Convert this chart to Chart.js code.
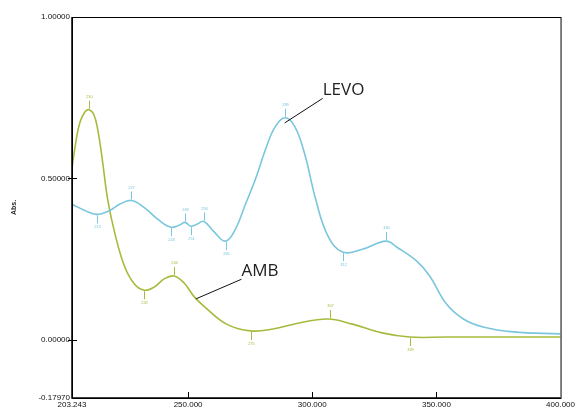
<!DOCTYPE html>
<html>
<head>
<meta charset="utf-8">
<script src="https://cdn.jsdelivr.net/npm/chart.js@4/dist/chart.umd.min.js"></script>
<style>
  html, body { margin: 0; padding: 0; background: #fff; }
  #wrap { width: 577px; height: 414px; }
</style>
</head>
<body>
<div id="wrap"><canvas id="chart"></canvas></div>
<script>
// wavelengths (nm) and absorbance
const levoX = [203.243, 208.43, 213.22, 218.41, 222.40, 227.19, 232.37, 238.36, 243.15, 246.34,
  248.73, 251.13, 253.52, 256.32, 260.31, 265.10, 269.09, 273.08, 277.07, 281.46,
  285.05, 289.04, 293.03, 297.02, 301.41, 306.2, 312.18, 320.16, 329.74, 334.13,
  342.11, 347.3, 354.08, 360.86, 368.84, 380.82, 400];
const levoY = [0.420, 0.401, 0.389, 0.401, 0.420, 0.432, 0.410, 0.370, 0.349, 0.355,
  0.364, 0.352, 0.358, 0.367, 0.336, 0.306, 0.343, 0.420, 0.497, 0.596,
  0.660, 0.688, 0.660, 0.574, 0.435, 0.324, 0.272, 0.281, 0.306, 0.287,
  0.244, 0.198, 0.111, 0.065, 0.040, 0.025, 0.019];

const ambX = [203.243, 204.84, 206.44, 208.43, 210.03, 212.02, 213.62, 215.61, 217.61, 220.40,
  224.39, 228.38, 232.37, 236.36, 240.5, 244.34, 248.33, 252.33, 256.32, 265.49,
  275.07, 284.25, 294.22, 306.2, 316.17, 328.14, 339.3, 354.08, 374.03, 400];
const ambY = [0.533, 0.615, 0.674, 0.706, 0.713, 0.698, 0.651, 0.549, 0.435, 0.333,
  0.228, 0.173, 0.154, 0.164, 0.190, 0.198, 0.177, 0.135, 0.105, 0.049,
  0.028, 0.034, 0.052, 0.065, 0.049, 0.022, 0.009, 0.009, 0.009, 0.009];

// peak / valley picks
const levoPeaks = [[227.2, 0.432], [248.7, 0.364], [256.3, 0.367], [289.0, 0.688], [329.7, 0.306]];
const levoValleys = [[213.2, 0.389], [243.2, 0.349], [251.1, 0.352], [265.1, 0.306], [312.2, 0.272]];
const ambPeaks = [[210.0, 0.713], [244.3, 0.198], [307.0, 0.065]];
const ambValleys = [[232.4, 0.154], [275.2, 0.028], [339.3, 0.009]];

const xTicks = [203.243, 250, 300, 350, 400];
const yTicks = [-0.1797, 0, 0.5, 1];

const GREEN = "rgb(168,186,62)";
const BLUE = "rgb(122,198,220)";

const toPts = (xs, ys) => xs.map((x, i) => ({ x: x, y: ys[i] }));

const decor = {
  id: "decor",
  afterDraw(chart) {
    const { ctx, chartArea: a, scales: { x, y } } = chart;
    ctx.save();
    // frame
    ctx.strokeStyle = "#000";
    ctx.lineWidth = 1;
    ctx.strokeRect(a.left + 0.5, a.top + 0.5, a.right - a.left, a.bottom - a.top);
    ctx.lineWidth = 1.5;
    ctx.beginPath();
    ctx.moveTo(a.left, a.top); ctx.lineTo(a.left, a.bottom); ctx.lineTo(a.right, a.bottom);
    ctx.stroke();
    // tick marks
    ctx.lineWidth = 1;
    ctx.beginPath();
    [0, 0.5].forEach((v) => {
      const py = Math.round(y.getPixelForValue(v)) + 0.5;
      ctx.moveTo(a.left - 4, py); ctx.lineTo(a.left + 5, py);
    });
    [250, 300, 350].forEach((v) => {
      const px = Math.round(x.getPixelForValue(v)) + 0.5;
      ctx.moveTo(px, a.bottom); ctx.lineTo(px, a.bottom - 6);
    });
    ctx.stroke();

    // peak picks
    const picks = (list, color, up) => {
      ctx.strokeStyle = color;
      ctx.fillStyle = color;
      ctx.lineWidth = 1;
      ctx.font = "4px 'Liberation Sans'";
      ctx.textAlign = "center";
      ctx.textBaseline = "middle";
      list.forEach(([wx, wy]) => {
        const px = Math.round(x.getPixelForValue(wx)) + 0.5;
        const py = y.getPixelForValue(wy);
        const d = up ? -1 : 1;
        ctx.beginPath();
        ctx.moveTo(px, py + d * 1);
        ctx.lineTo(px, py + d * 9);
        ctx.stroke();
        ctx.fillText(Math.round(wx), px, py + d * 13);
      });
    };
    picks(levoPeaks, BLUE, true);
    picks(levoValleys, BLUE, false);
    picks(ambPeaks, GREEN, true);
    picks(ambValleys, GREEN, false);

    // callouts
    const callout = (from, to, text) => {
      ctx.strokeStyle = "#111";
      ctx.lineWidth = 1;
      ctx.beginPath();
      ctx.moveTo(x.getPixelForValue(from[0]), y.getPixelForValue(from[1]));
      ctx.lineTo(x.getPixelForValue(to[0]), y.getPixelForValue(to[1]));
      ctx.stroke();
      ctx.fillStyle = "#222";
      ctx.font = "17px 'Open Sans'";
      ctx.textAlign = "left";
      ctx.textBaseline = "middle";
      ctx.fillText(text, x.getPixelForValue(to[0]), y.getPixelForValue(to[1]) - 8);
    };
    callout([288.9, 0.672], [304.2, 0.748], "LEVO");
    callout([253.1, 0.127], [271.5, 0.188], "AMB");
    ctx.restore();
  },
};

new Chart(document.getElementById("chart"), {
  type: "line",
  data: {
    datasets: [
      {
        label: "LEVO",
        data: toPts(levoX, levoY),
        borderColor: BLUE,
        borderWidth: 1.6,
        pointRadius: 0,
        tension: 0.4,
      },
      {
        label: "AMB",
        data: toPts(ambX, ambY),
        borderColor: GREEN,
        borderWidth: 1.6,
        pointRadius: 0,
        tension: 0.4,
      },
    ],
  },
  options: {
    responsive: true,
    maintainAspectRatio: false,
    animation: false,
    layout: { padding: { top: 17, right: 12, left: 0, bottom: 0 } },
    plugins: { legend: { display: false }, tooltip: { enabled: false } },
    scales: {
      x: {
        type: "linear",
        min: 203.243,
        max: 400,
        afterBuildTicks: (s) => { s.ticks = xTicks.map((v) => ({ value: v })); },
        afterFit: (s) => { s.height = 16; },
        grid: { display: false, drawTicks: false },
        border: { display: false },
        ticks: {
          autoSkip: false,
          maxRotation: 0,
          padding: 2,
          color: "#111",
          font: { family: "'Liberation Sans'", size: 8 },
          callback: (v) => Number(v).toFixed(3),
        },
      },
      y: {
        min: -0.1797,
        max: 1,
        afterBuildTicks: (s) => { s.ticks = yTicks.map((v) => ({ value: v })); },
        afterFit: (s) => { s.width = 72; },
        grid: { display: false, drawTicks: false },
        border: { display: false },
        title: {
          display: true,
          text: "Abs.",
          color: "#222",
          font: { family: "'Liberation Sans'", size: 7, weight: "bold" },
          padding: { top: 10 },
        },
        ticks: {
          padding: 2,
          color: "#111",
          font: { family: "'Liberation Sans'", size: 8 },
          callback: (v) => Number(v).toFixed(5),
        },
      },
    },
  },
  plugins: [decor],
});
</script>
</body>
</html>
